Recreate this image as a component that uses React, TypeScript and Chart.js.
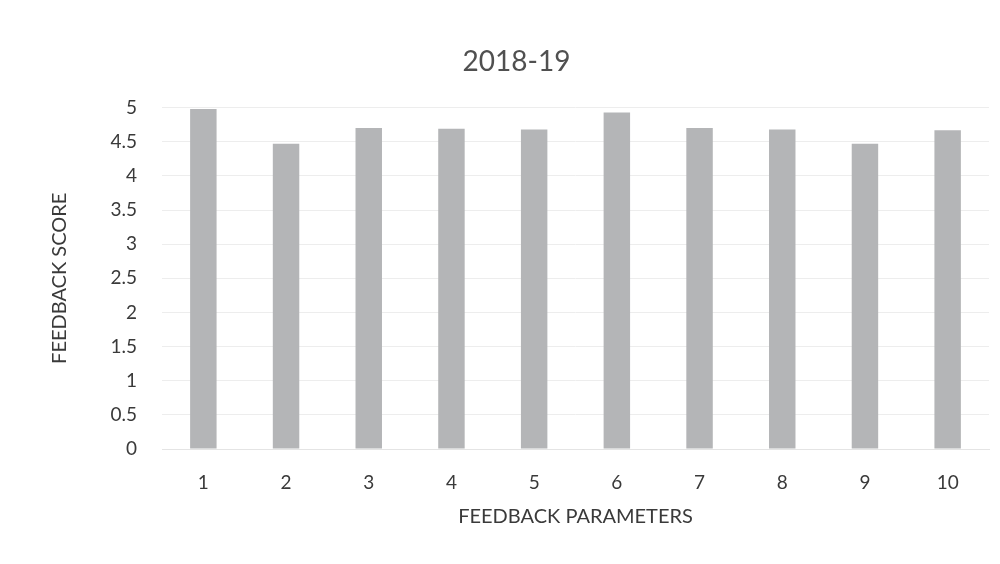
import React, { useEffect, useRef } from "react";
import { Chart, registerables } from "chart.js";

Chart.register(...registerables);

const categories = ["1", "2", "3", "4", "5", "6", "7", "8", "9", "10"];
const scores = [4.98, 4.47, 4.7, 4.69, 4.68, 4.93, 4.7, 4.68, 4.47, 4.67];
const yTicks = [0, 0.5, 1, 1.5, 2, 2.5, 3, 3.5, 4, 4.5, 5];
const chartTitle = "2018-19";
const xTitle = "FEEDBACK PARAMETERS";
const yTitle = "FEEDBACK SCORE";

export default function App() {
  const ref = useRef<HTMLCanvasElement | null>(null);
  useEffect(() => {
    document.body.style.margin = "0";
    const font = "Lato, 'Open Sans', sans-serif";
    const chart = new Chart(ref.current as HTMLCanvasElement, {
      type: "bar",
      data: {
        labels: categories,
        datasets: [
          {
            data: scores,
            backgroundColor: "#b4b5b7",
            barPercentage: 0.32,
            categoryPercentage: 1,
          },
        ],
      },
      options: {
        animation: false,
        responsive: false,
        layout: { padding: { left: 44, right: 11, top: 0, bottom: 31 } },
        plugins: {
          legend: { display: false },
          tooltip: { enabled: false },
          title: {
            display: true,
            text: chartTitle,
            color: "#505050",
            font: { family: font, size: 28, weight: "normal" },
            padding: { top: 45, bottom: 29 },
          },
        },
        scales: {
          x: {
            grid: { display: false, drawTicks: false },
            border: { color: "#e4e4e4" },
            ticks: { color: "#3a3a3a", font: { family: font, size: 19 }, padding: 22 },
            title: {
              display: true,
              text: xTitle,
              color: "#3a3a3a",
              font: { family: font, size: 20 },
              padding: { top: 4, bottom: 4 },
            },
            afterFit: (s: any) => {
              s.height = 84;
            },
          },
          y: {
            min: 0,
            max: 5,
            afterBuildTicks: (s: any) => {
              s.ticks = yTicks.map((v) => ({ value: v }));
            },
            grid: { color: "#ededed", drawTicks: false },
            border: { display: false },
            ticks: {
              color: "#3a3a3a",
              font: { family: font, size: 19 },
              padding: 25,
              callback: (v: any) => String(v),
            },
            title: {
              display: true,
              text: yTitle,
              color: "#3a3a3a",
              font: { family: font, size: 20 },
              padding: { top: 4, bottom: 4 },
            },
            afterFit: (s: any) => {
              s.width = 118;
            },
          },
        },
      },
    });
    return () => chart.destroy();
  }, []);
  return (
    <div style={{ position: "absolute", left: 0, top: 0, width: 1000, height: 564, background: "#fff" }}>
      <canvas ref={ref} width={1000} height={564} />
    </div>
  );
}
